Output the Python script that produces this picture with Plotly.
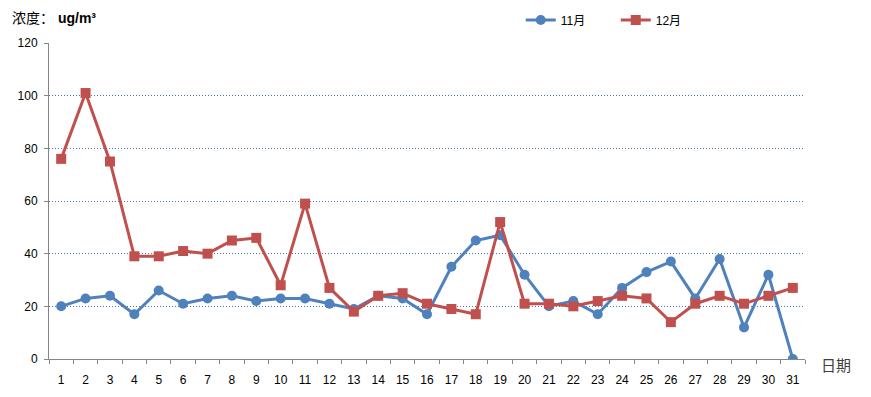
import plotly.graph_objects as go

days = [str(i) for i in range(1, 32)]
nov = [20, 23, 24, 17, 26, 21, 23, 24, 22, 23, 23, 21, 19, 24, 23, 17, 35, 45, 47, 32,
       20, 22, 17, 27, 33, 37, 23, 38, 12, 32, 0]
dec = [76, 101, 75, 39, 39, 41, 40, 45, 46, 28, 59, 27, 18, 24, 25, 21, 19, 17, 52, 21,
       21, 20, 22, 24, 23, 14, 21, 24, 21, 24, 27]
y_ticks = [0, 20, 40, 60, 80, 100, 120]

font = "Liberation Sans, Arial, Noto Sans CJK SC, sans-serif"

fig = go.Figure()
fig.add_trace(go.Scatter(x=days, y=nov, name="11月", mode="lines+markers",
                         line=dict(color="#4F81BD", width=3),
                         marker=dict(symbol="circle", size=10, color="#4F81BD")))
fig.add_trace(go.Scatter(x=days, y=dec, name="12月", mode="lines+markers",
                         line=dict(color="#C0504D", width=3),
                         marker=dict(symbol="square", size=10, color="#C0504D")))

fig.update_layout(
    width=871, height=397,
    margin=dict(l=41, r=74, t=35, b=46, autoexpand=False),
    paper_bgcolor="white", plot_bgcolor="white",
    font=dict(family=font, size=12, color="#000000"),
    showlegend=True,
    legend=dict(orientation="h", x=0.624, y=1.073, xanchor="left", yanchor="middle",
                font=dict(size=12), bgcolor="rgba(0,0,0,0)",
                entrywidth=50, entrywidthmode="pixels"),
    xaxis=dict(type="category", range=[-0.5, 30.5], autorange=False, showgrid=False,
               showline=True, linecolor="#868686",
               linewidth=1, ticks="outside", tickson="boundaries", ticklen=4,
               tickangle=0, tickcolor="#868686", tickfont=dict(size=12), zeroline=False,
               ticklabelstandoff=10),
    yaxis=dict(range=[0, 120], tickvals=y_ticks, showgrid=True, gridcolor="#4a78b0",
               griddash="1px,2px", gridwidth=1, showline=True, linecolor="#868686",
               linewidth=1, ticks="outside", ticklen=4, tickcolor="#868686",
               tickfont=dict(size=12), zeroline=False, ticklabelstandoff=4),
    annotations=[
        dict(text="浓度： <b>ug/m³</b>", xref="paper", yref="paper", x=-0.052, y=1.079,
             xanchor="left", yanchor="middle", showarrow=False, font=dict(size=14)),
        dict(text="日期", xref="paper", yref="paper", x=1.019, y=-0.019,
             xanchor="left", yanchor="middle", showarrow=False,
             font=dict(size=15, color="#404040")),
    ],
)

fig.write_html("out.html")
